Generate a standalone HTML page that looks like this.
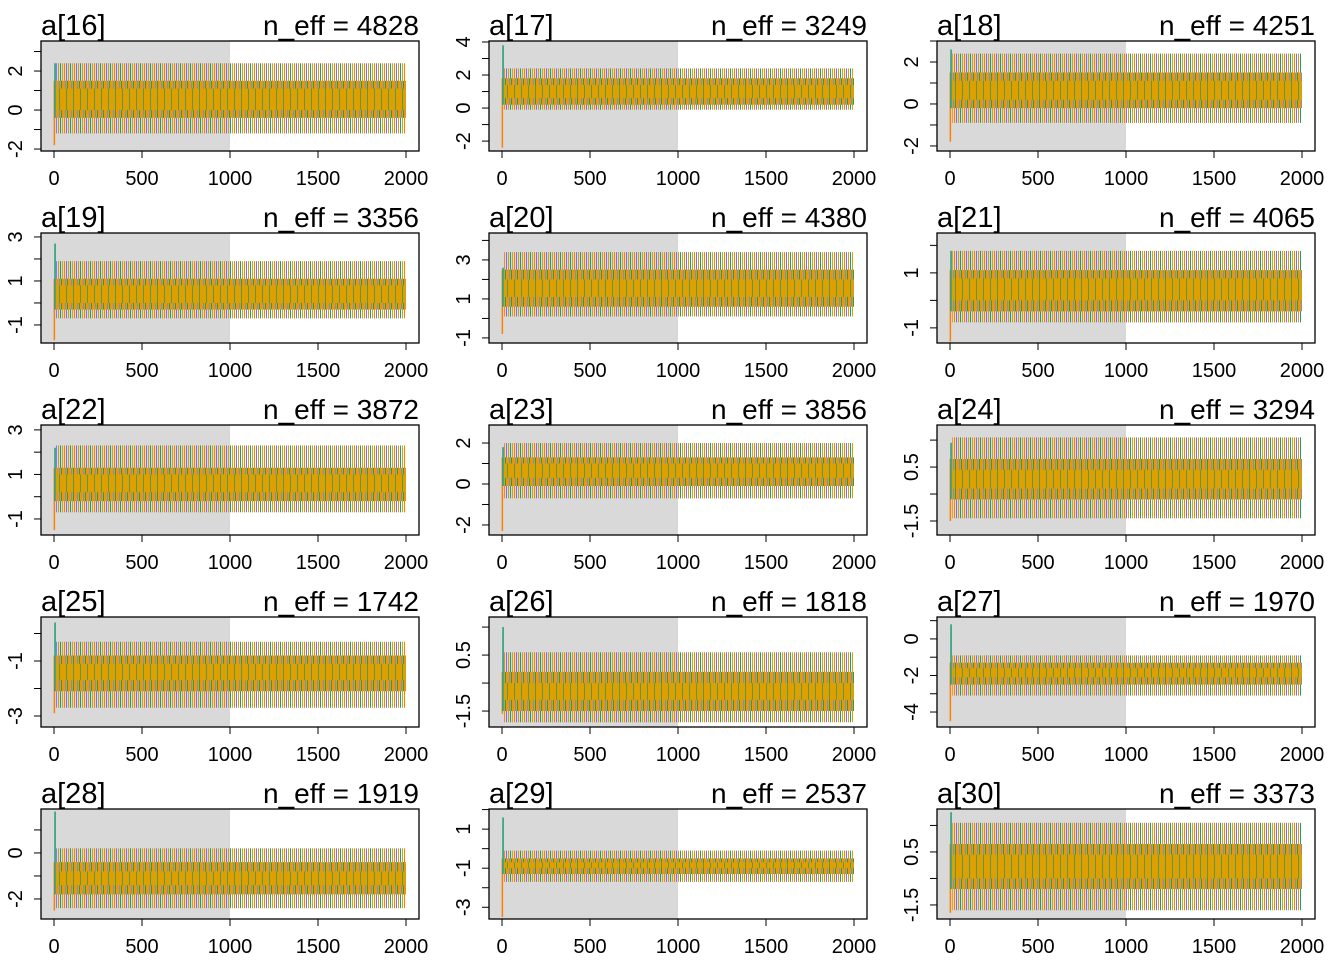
<!DOCTYPE html>
<html><head><meta charset="utf-8">
<style>
html,body{margin:0;padding:0;background:#fff;}
svg{display:block;font-family:"Liberation Sans",sans-serif;}
</style></head>
<body>
<svg id="chart" width="1344" height="960" viewBox="0 0 1344 960" xmlns="http://www.w3.org/2000/svg">
<defs>
<pattern id="outerPat" width="10" height="4" patternUnits="userSpaceOnUse">
<rect x="0" width="1" height="4" fill="#1b9e77"/>
<rect x="2" width="1" height="4" fill="#e69f00"/>
<rect x="4" width="1" height="4" fill="#ff7f00"/>
<rect x="6" width="1" height="4" fill="#7070ff"/>
<rect x="8" width="1" height="4" fill="#d99e00"/>
</pattern>
<pattern id="midPat" width="6" height="4" patternUnits="userSpaceOnUse">
<rect width="6" height="4" fill="#d9a000"/>
<rect x="1" width="1" height="4" fill="#1b9e77"/>
<rect x="3" width="1" height="4" fill="#ff8a10"/>
<rect x="5" width="1" height="4" fill="#7a7aff" opacity="0.7"/>
</pattern>
<pattern id="innerPat" width="7" height="4" patternUnits="userSpaceOnUse">
<rect width="7" height="4" fill="#dda000"/>
<rect x="3" width="1" height="4" fill="#5a9a50"/>
</pattern>
</defs>
</svg>
<script>
const panelNames=["a[16]","a[17]","a[18]","a[19]","a[20]","a[21]","a[22]","a[23]","a[24]","a[25]","a[26]","a[27]","a[28]","a[29]","a[30]"];
const nEff=[4828,3249,4251,3356,4380,4065,3872,3856,3294,1742,1818,1970,1919,2537,3373];
const yMin=[-2.1,-2.6,-2.24,-1.82,-1.26,-1.55,-1.72,-2.49,-2.02,-3.4,-2.07,-4.82,-2.87,-3.6,-2.03];
const yMax=[3.54,4.06,3.0,3.18,4.38,2.45,3.22,2.88,2.06,0.6,1.86,1.2,1.91,2.03,2.12];
const yTickStart=[-2,-2,-2,-1,-1,-1,-1,-2,-1.5,-3,-1.5,-4,-2,-3,-1.5];
const yLabelStep=[2,2,2,2,2,2,2,2,2,2,2,2,2,2,2];
const outerLo=[-1.2,-0.1,-0.9,-0.7,0.1,-0.8,-0.7,-0.7,-1.4,-2.7,-1.9,-3.1,-2.4,-1.7,-1.7];
const outerHi=[2.4,2.4,2.4,1.9,3.4,1.8,2.3,2.0,1.6,-0.3,0.6,-0.9,0.2,-0.1,1.6];
const innerLo=[-0.4,0.2,-0.2,-0.3,0.6,-0.4,-0.2,-0.1,-0.7,-2.1,-1.5,-2.5,-1.8,-1.3,-0.9];
const innerHi=[1.5,1.8,1.5,1.1,2.5,1.1,1.3,1.3,0.8,-0.8,-0.1,-1.3,-0.4,-0.5,0.8];
const coreLo=[0.0,0.6,0.2,0.0,1.1,0.0,0.2,0.3,-0.3,-1.7,-1.1,-2.1,-1.4,-1.0,-0.5];
const coreHi=[1.1,1.4,1.1,0.8,2.0,0.8,1.0,1.0,0.4,-1.1,-0.5,-1.6,-0.8,-0.7,0.4];
const spikeLo=[-1.8,-2.4,-1.8,-1.7,-0.8,-1.5,-1.5,-2.3,-1.5,-2.9,-1.6,-4.5,-2.5,-3.5,-1.8];
const spikeHi=[2.4,3.8,2.6,2.7,2.6,1.8,2.2,1.8,1.4,0.4,1.5,0.8,1.8,1.6,2.0];
const xTicks=[0,500,1000,1500,2000];
const warmup=1000, iterMax=2000;

const NS="http://www.w3.org/2000/svg";
const svg=document.getElementById('chart');
function mk(tag,attrs,parent){const e=document.createElementNS(NS,tag);for(const k in attrs)e.setAttribute(k,attrs[k]);(parent||svg).appendChild(e);return e;}
const colL=[41,489,937], W=378, H=110;
panelNames.forEach((nm,i)=>{
  const c=i%3, r=Math.floor(i/3);
  const L=colL[c], T=41+192*r, B=T+H, R=L+W;
  const xs=v=>L+13+v/iterMax*352;
  const ys=v=>B-(v-yMin[i])/(yMax[i]-yMin[i])*H;
  const g=mk('g',{});
  
  
  const wr=mk('rect',{x:L,y:T,width:xs(warmup)-L,height:H,fill:'#d9d9d9'},g);
  
  
  const x0=xs(12), x1=xs(iterMax);
  const ob=mk('rect',{x:x0,y:ys(outerHi[i]),width:x1-x0,height:ys(outerLo[i])-ys(outerHi[i]),fill:'url(#outerPat)'},g);
  
  
  const mb=mk('rect',{x:x0,y:ys(innerHi[i]),width:x1-x0,height:ys(innerLo[i])-ys(innerHi[i]),fill:'url(#midPat)'},g);
  
  
  const ib=mk('rect',{x:x0,y:ys(coreHi[i]),width:x1-x0,height:ys(coreLo[i])-ys(coreHi[i]),fill:'url(#innerPat)'},g);
  
  
  const sp1=mk('line',{x1:xs(2),x2:xs(2),y1:ys(spikeLo[i]),y2:ys(innerHi[i]),stroke:'#ff7f00','stroke-width':1.5},g);
  
  
  const sp2=mk('line',{x1:xs(6),x2:xs(6),y1:ys(spikeHi[i]),y2:ys(innerLo[i]),stroke:'#1b9e77','stroke-width':1.5},g);
  
  
  const bx=mk('rect',{x:L,y:T,width:W,height:H,fill:'none',stroke:'#000','stroke-width':1.3},g);
  
  
  xTicks.forEach(t=>{
    const tl=mk('line',{x1:xs(t),x2:xs(t),y1:B,y2:B+7,stroke:'#000'},g);
    
    
    const tx=mk('text',{x:xs(t),y:B+34,'font-size':20,'text-anchor':'middle'},g);
    tx.textContent=t;
    
    
  });
  const half=yLabelStep[i]/2;
  for(let k=0;;k++){
    const v=yTickStart[i]+k*half; const yy=ys(v);
    if(yy<T-1) break;
    const tl=mk('line',{x1:L-7,x2:L,y1:yy,y2:yy,stroke:'#000'},g);
    
    
    if(k%2===0){
      const tx=mk('text',{x:0,y:0,'font-size':20,'text-anchor':'middle',transform:`translate(${L-19},${yy}) rotate(-90)`},g);
      tx.textContent=v;
      
      
    }
  }
  const tt=mk('text',{x:L,y:T-6,'font-size':29},g);
  tt.textContent=nm;
  
  
  const ne=mk('text',{x:R,y:T-6,'font-size':28,'text-anchor':'end'},g);
  ne.textContent='n_eff = '+nEff[i];
  
  
});
</script>
</body></html>
